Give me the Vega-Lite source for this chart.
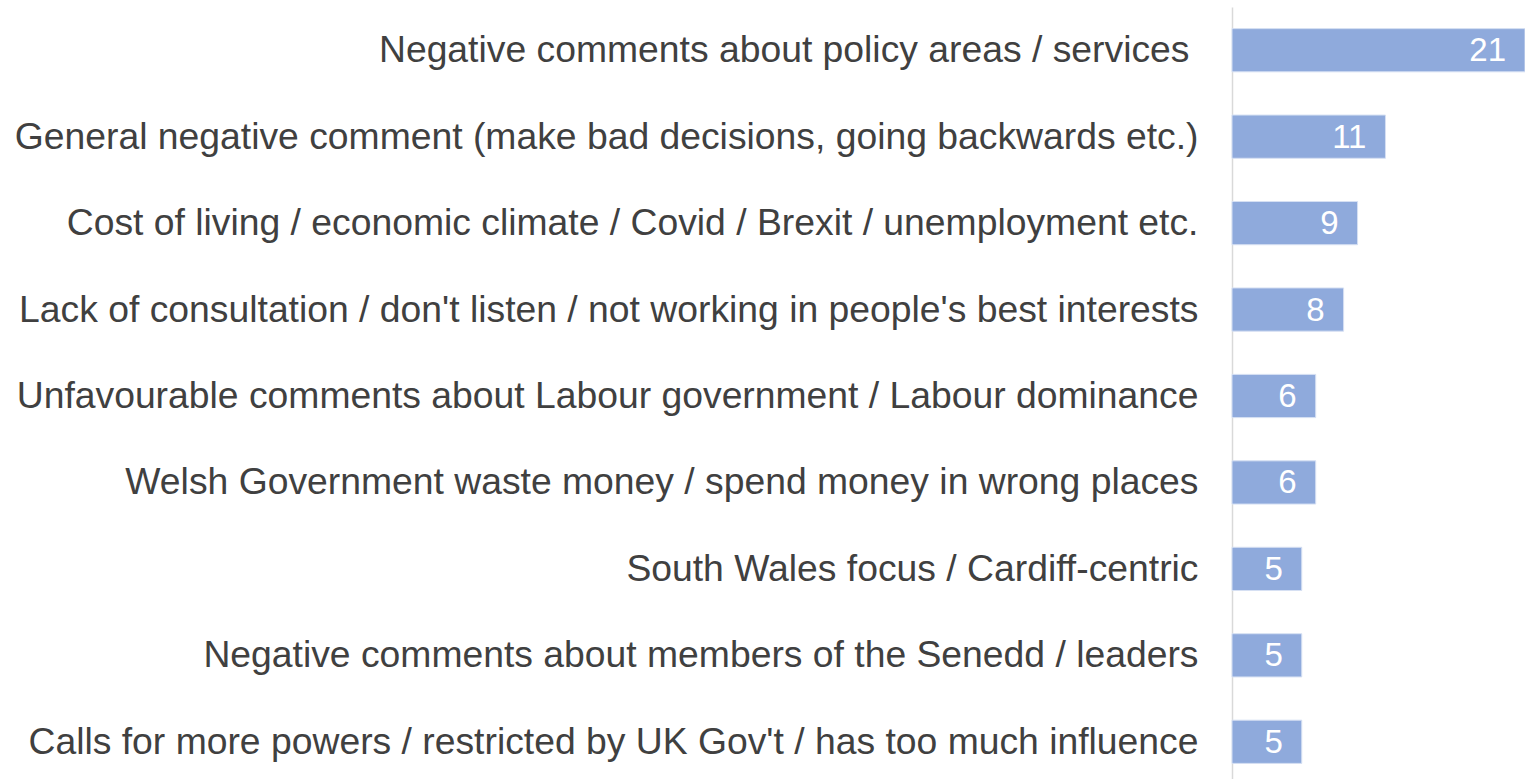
{
  "$schema": "https://vega.github.io/schema/vega-lite/v6.json",
  "autosize": {"type": "none"},
  "padding": {"left": 1232, "top": 7, "right": 0, "bottom": 0},
  "width": 293,
  "height": 778,
  "background": "white",
  "config": {"view": {"stroke": null}, "font": "Liberation Sans"},
  "data": {"values": [
    {"category": "Negative comments about policy areas / services", "value": 21},
    {"category": "General negative comment (make bad decisions, going backwards etc.)", "value": 11},
    {"category": "Cost of living / economic climate / Covid / Brexit / unemployment etc.", "value": 9},
    {"category": "Lack of consultation / don't listen / not working in people's best interests", "value": 8},
    {"category": "Unfavourable comments about Labour government / Labour dominance", "value": 6},
    {"category": "Welsh Government waste money / spend money in wrong places", "value": 6},
    {"category": "South Wales focus / Cardiff-centric", "value": 5},
    {"category": "Negative comments about members of the Senedd / leaders", "value": 5},
    {"category": "Calls for more powers / restricted by UK Gov't / has too much influence", "value": 5}
  ]},
  "encoding": {
    "y": {
      "field": "category", "type": "nominal", "sort": null,
      "scale": {"paddingInner": 0.5, "paddingOuter": 0.25},
      "axis": {
        "title": null, "ticks": false, "labelFontSize": 37.3, "labelColor": "#404040",
        "labelFont": "Liberation Sans", "labelLimit": 0,
        "labelPadding": {"condition": {"test": "datum.value === 'Negative comments about policy areas / services'", "value": 43}, "value": 34},
        "labelBaseline": "middle", "labelOffset": 1,
        "domainColor": "#D9D9D9", "domainWidth": 1.5, "grid": false
      }
    },
    "x": {
      "field": "value", "type": "quantitative",
      "scale": {"domain": [0, 21], "nice": false, "zero": true},
      "axis": null
    }
  },
  "layer": [
    {"mark": {"type": "bar", "color": "#8FAADC", "stroke": "#D6E0F3", "strokeWidth": 1}},
    {"mark": {"type": "text", "align": "right", "baseline": "middle", "dx": -19, "dy": 1, "fontSize": 33, "color": "white", "font": "Liberation Sans"},
     "encoding": {"text": {"field": "value", "type": "quantitative"}}}
  ]
}
